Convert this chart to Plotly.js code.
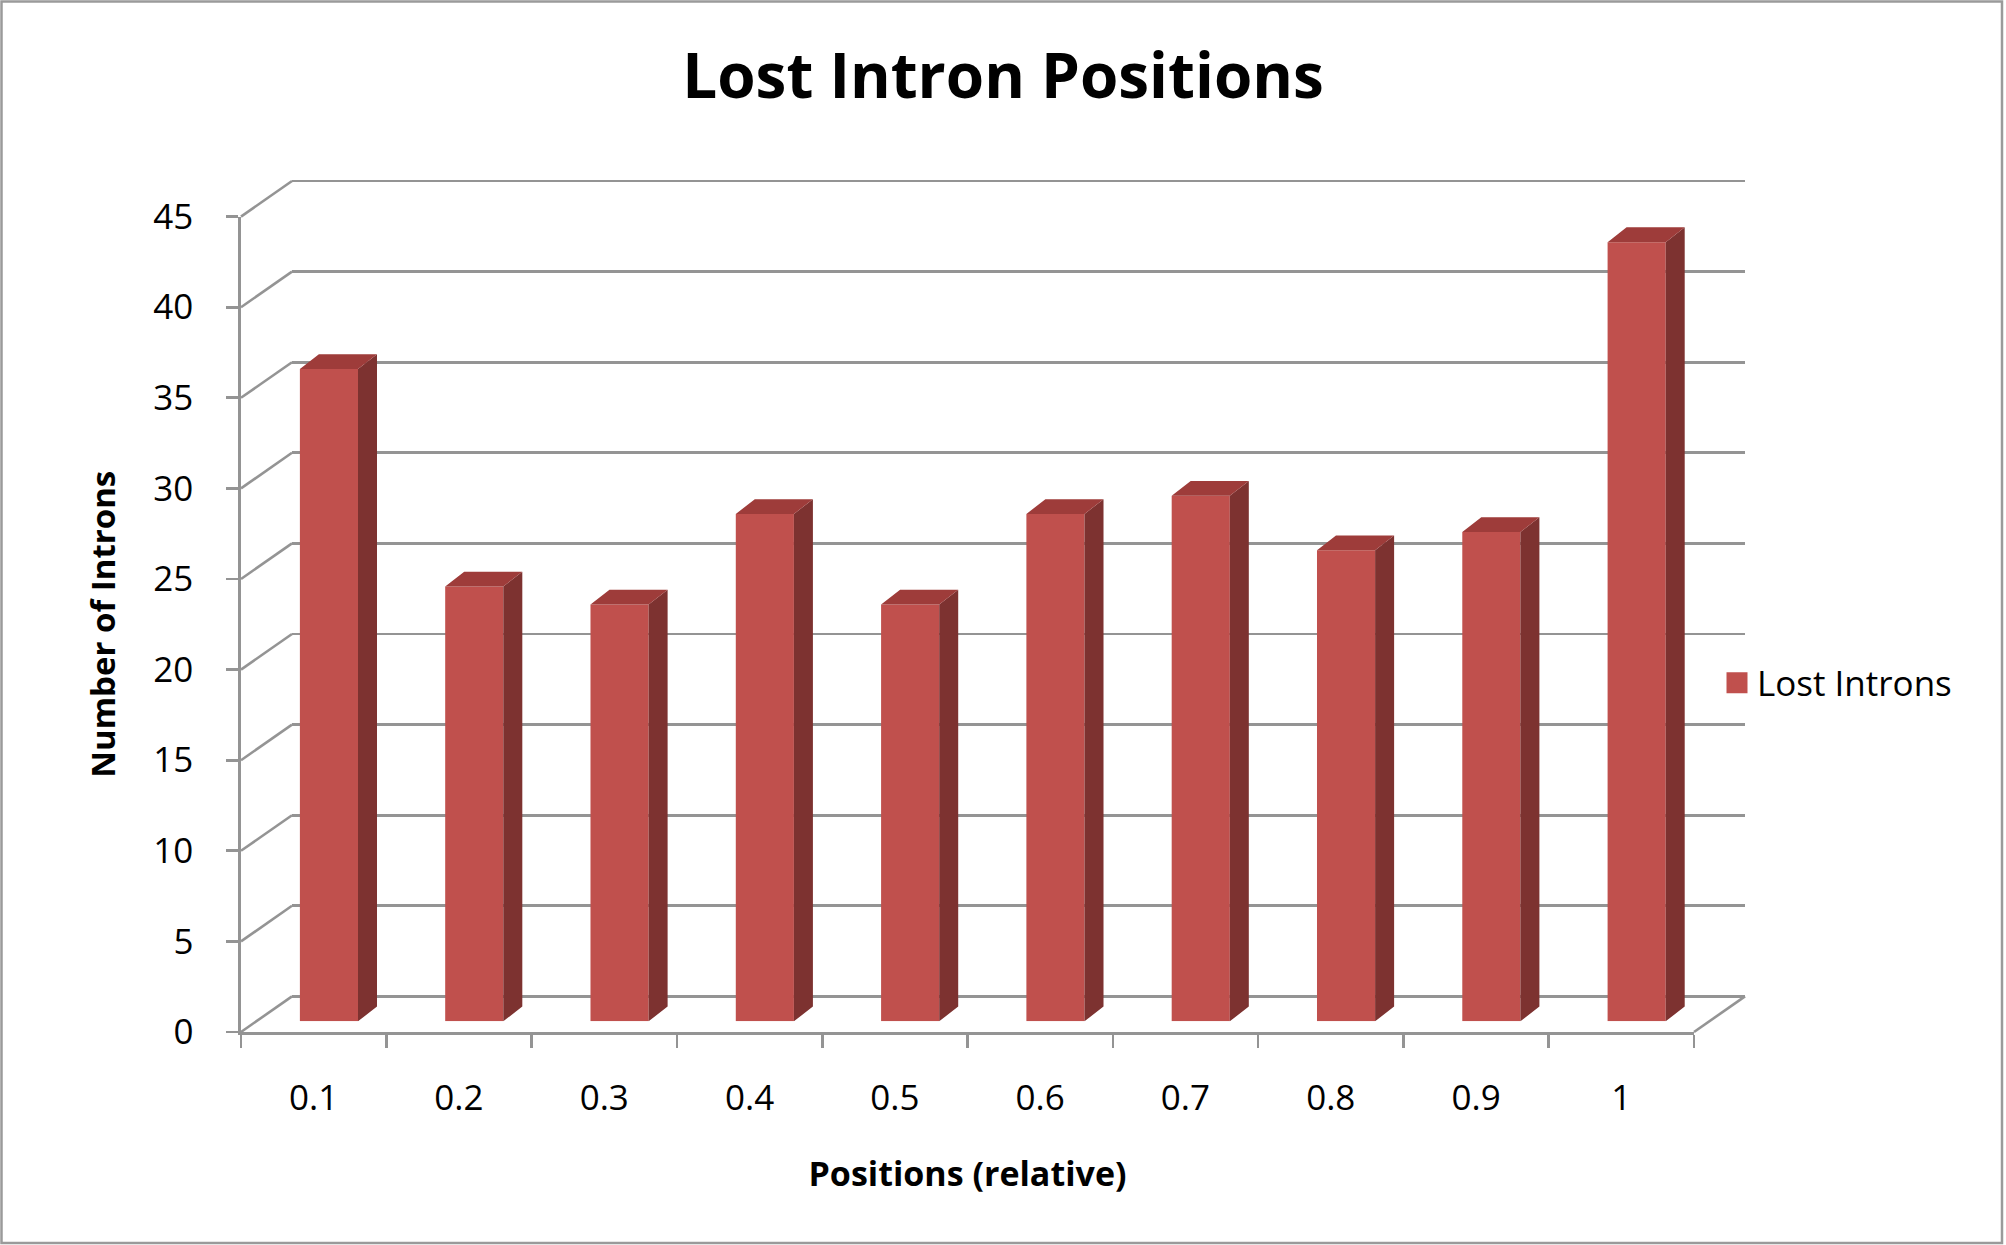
<!DOCTYPE html>
<html>
<head>
<meta charset="utf-8">
<script src="https://cdn.plot.ly/plotly-3.0.1.min.js"></script>
<style>
  html, body { margin: 0; padding: 0; background: #ffffff; }
  #chart { width: 2006px; height: 1245px; }
  #chart text { font-variant-ligatures: none; }
</style>
</head>
<body>
<div id="chart"></div>
<script>
// ---------------- data ----------------
const categories = ['0.1', '0.2', '0.3', '0.4', '0.5', '0.6', '0.7', '0.8', '0.9', '1'];
const lostIntrons = [36, 24, 23, 28, 23, 28, 29, 26, 27, 43];
const yTickVals = [0, 5, 10, 15, 20, 25, 30, 35, 40, 45];
const yTickText = ['0', '5', '10', '15', '20', '25', '30', '35', '40', '45'];
const seriesName = 'Lost Introns';
const chartTitle = 'Lost Intron Positions';
const xTitle = 'Positions (relative)';
const yTitle = 'Number of Introns';

// ---------------- geometry / style ----------------
const W = 2006, H = 1245;
const DEPTH_DX = 51, DEPTH_DY = 35.6;      // oblique depth of the 3-D box
const FRONT_H = 815.4;                      // px from 0 to max on the front plane
const PAD = 6;                              // room so the top back gridline is drawn fully
const M = { l: 241, r: 261, b: 213, t: 0 };
const PW = W - M.l - M.r;
const PH = FRONT_H + DEPTH_DY + PAD;
M.t = H - M.b - PH;
const FRONT_W = PW - DEPTH_DX;
const BAR_Z = 0.3;                          // depth position of bar front faces
const BAR_DX = 19, BAR_DY = 14.8;           // bar depth
const BAR_W = 0.4;                          // bar width (category units)
const yMax = yTickVals[yTickVals.length - 1];

const GRID = '#949494', GRIDW = 2.6;
const FRONT = '#C0504D', SIDE = '#7D3230', TOP = '#9E3C3A';
const FONT = '"Open Sans", Lato, sans-serif';

const idx = categories.map((_, i) => i);
const xRange = [-0.5, categories.length - 0.5];

const fxDom = [0, FRONT_W / PW], fyDom = [0, FRONT_H / PH];
const bxDom = [DEPTH_DX / PW, 1], byDom = [DEPTH_DY / PH, 1];
const zxDom = [BAR_Z * DEPTH_DX / PW, (BAR_Z * DEPTH_DX + FRONT_W) / PW];
const zyDom = [BAR_Z * DEPTH_DY / PH, (BAR_Z * DEPTH_DY + FRONT_H) / PH];

// depth of bars in data units of the bar plane
const ddx = BAR_DX / (FRONT_W / categories.length);
const ddy = BAR_DY / (FRONT_H / yMax);
const hw = BAR_W / 2;

const sideX = [], sideY = [], topX = [], topY = [];
idx.forEach((i) => {
  const v = lostIntrons[i];
  sideX.push(i + hw, i + hw + ddx, i + hw + ddx, i + hw, i + hw, null);
  sideY.push(0, ddy, v + ddy, v, 0, null);
  topX.push(i - hw, i - hw + ddx, i + hw + ddx, i + hw, i - hw, null);
  topY.push(v, v + ddy, v + ddy, v, v, null);
});

const traces = [
  // front plane (category axis carrying the tick labels)
  { type: 'scatter', x: categories, y: lostIntrons, xaxis: 'x', yaxis: 'y',
    mode: 'markers', marker: { opacity: 0 }, showlegend: false, hoverinfo: 'skip' },
  // back wall (gridlines)
  { type: 'scatter', x: idx, y: lostIntrons, xaxis: 'x2', yaxis: 'y2',
    mode: 'markers', marker: { opacity: 0 }, showlegend: false, hoverinfo: 'skip' },
  // bars: front faces
  { type: 'bar', name: seriesName, legendgroup: 'lost', x: idx, y: lostIntrons, width: BAR_W,
    xaxis: 'x3', yaxis: 'y3', marker: { color: FRONT }, showlegend: false,
    hovertemplate: '%{y}<extra></extra>' },
  // bars: side faces
  { type: 'scatter', x: sideX, y: sideY, xaxis: 'x3', yaxis: 'y3', mode: 'lines',
    fill: 'toself', fillcolor: SIDE, line: { width: 0, color: SIDE }, legendgroup: 'lost',
    showlegend: false, hoverinfo: 'skip' },
  // bars: top faces
  { type: 'scatter', x: topX, y: topY, xaxis: 'x3', yaxis: 'y3', mode: 'lines',
    fill: 'toself', fillcolor: TOP, line: { width: 0, color: TOP }, legendgroup: 'lost',
    showlegend: false, hoverinfo: 'skip' },
  // legend key for the bar series (larger square, as in the original)
  { type: 'scatter', name: seriesName, legendgroup: 'lost', x: [null], y: [null],
    xaxis: 'x3', yaxis: 'y3', mode: 'markers',
    marker: { symbol: 'square', size: 16, color: FRONT, line: { color: FRONT, width: 5 } },
    showlegend: true, hoverinfo: 'skip' }
];

// left wall and floor diagonals (paper coordinates derived from the tick values)
const shapes = yTickVals.map(v => {
  const y0 = (v / yMax) * fyDom[1];
  return {
    type: 'line', layer: 'below', xref: 'paper', yref: 'paper',
    x0: 0, x1: bxDom[0], y0: y0, y1: y0 + DEPTH_DY / PH,
    line: { color: GRID, width: GRIDW }
  };
});
shapes.push({
  type: 'line', layer: 'below', xref: 'paper', yref: 'paper',
  x0: fxDom[1], x1: 1, y0: 0, y1: DEPTH_DY / PH,
  line: { color: GRID, width: GRIDW }
});
// outer chart border
shapes.push({
  type: 'rect', layer: 'below', xref: 'paper', yref: 'paper',
  x0: (1.5 - M.l) / PW, x1: (W - 4 - M.l) / PW,
  y0: -(H - 2 - (M.t + PH)) / PH, y1: (M.t + PH - 1.5) / PH,
  line: { color: '#9a9a9a', width: 2.5 }, fillcolor: 'rgba(0,0,0,0)'
});

const layout = {
  width: W, height: H,
  margin: M,
  paper_bgcolor: '#ffffff', plot_bgcolor: 'rgba(0,0,0,0)',
  font: { family: FONT, color: '#000000', size: 35 },
  title: { text: chartTitle, font: { family: FONT, size: 62, weight: 'bold', color: '#000' },
           x: 0.5, xref: 'container', xanchor: 'center', y: 1 - 76 / H, yref: 'container', yanchor: 'middle' },
  showlegend: true,
  legend: { x: (1717 - M.l) / PW, xanchor: 'left', y: (M.t + PH - 683) / PH, yanchor: 'middle',
            itemsizing: 'trace', font: { family: FONT, size: 35 }, bgcolor: 'rgba(0,0,0,0)' },
  xaxis: {
    domain: fxDom, anchor: 'y', type: 'category', range: xRange,
    showline: true, linecolor: GRID, linewidth: GRIDW,
    ticks: 'outside', tickson: 'boundaries', ticklen: 13, tickwidth: GRIDW, tickcolor: GRID,
    showgrid: false, zeroline: false, ticklabelstandoff: 33,
    tickfont: { family: FONT, size: 35 },
    title: { text: xTitle, font: { family: FONT, size: 34, weight: 'bold' }, standoff: 44 }
  },
  yaxis: {
    domain: fyDom, anchor: 'x', range: [0, yMax], tickmode: 'array',
    tickvals: yTickVals, ticktext: yTickText,
    showline: true, linecolor: GRID, linewidth: GRIDW,
    ticks: 'outside', ticklen: 12, tickwidth: GRIDW, tickcolor: GRID,
    showgrid: false, zeroline: false, ticklabelstandoff: 26,
    tickfont: { family: FONT, size: 35 },
    title: { text: yTitle, font: { family: FONT, size: 33, weight: 'bold' }, standoff: 28 }
  },
  xaxis2: {
    domain: bxDom, anchor: 'y2', range: xRange, showgrid: false, zeroline: false,
    showticklabels: false, ticks: '', showline: false
  },
  yaxis2: {
    domain: byDom, anchor: 'x2', range: [0, yMax * (FRONT_H + PAD) / FRONT_H],
    tickmode: 'array', tickvals: yTickVals,
    showgrid: true, gridcolor: GRID, gridwidth: GRIDW,
    zeroline: true, zerolinecolor: GRID, zerolinewidth: GRIDW,
    showticklabels: false, ticks: '', showline: false
  },
  xaxis3: {
    domain: zxDom, anchor: 'y3', range: xRange, showgrid: false, zeroline: false,
    showticklabels: false, ticks: '', showline: false
  },
  yaxis3: {
    domain: zyDom, anchor: 'x3', range: [0, yMax], showgrid: false, zeroline: false,
    showticklabels: false, ticks: '', showline: false
  },
  shapes: shapes
};

Plotly.newPlot('chart', traces, layout, { displayModeBar: false, staticPlot: true });
</script>
</body>
</html>
